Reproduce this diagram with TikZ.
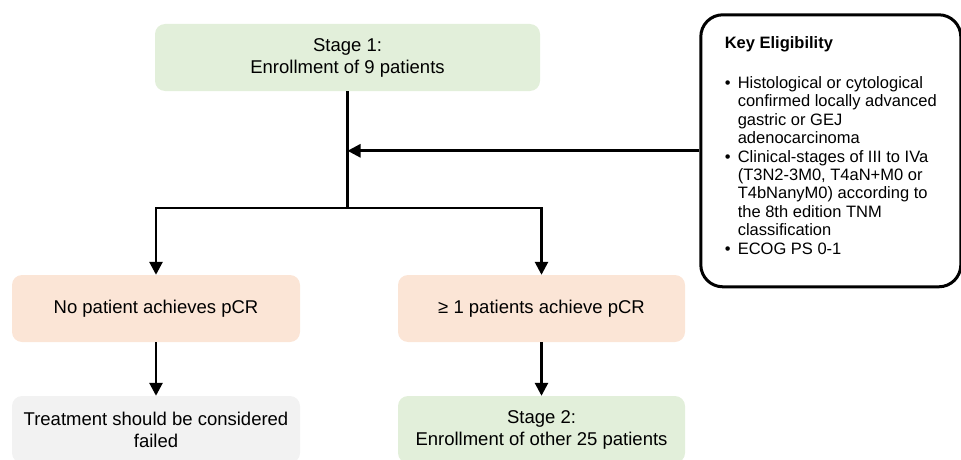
\documentclass[tikz,border=0pt]{standalone}
\usepackage{fontspec}
\setmainfont{Liberation Sans}
\usetikzlibrary{arrows.meta}
\definecolor{stagegreen}{HTML}{E2EFDA}
\definecolor{pcrorange}{HTML}{FBE5D6}
\definecolor{failgray}{HTML}{F2F2F2}

\begin{document}
\begin{tikzpicture}[x=1pt,y=-1pt,
  box/.style={rounded corners=10pt,minimum height=67pt,inner sep=0pt,align=center,
    font=\fontsize{18.5}{22}\selectfont},
  link/.style={line width=2.7pt},
  arr/.style={link,-{Triangle[length=13pt,width=13pt]}}]
  \useasboundingbox (0,0) rectangle (961,460);
  \node [box,fill=stagegreen,minimum width=385pt] (stage1) at (347.5,57.5) {Stage 1:\\Enrollment of 9 patients};
  \node [box,fill=pcrorange,minimum width=288pt] (nopcr) at (156,308.5) {No patient achieves pCR};
  \node [box,fill=pcrorange,minimum width=287pt] (onepcr) at (541.5,308.5) {≥ 1 patients achieve pCR};
  \node [box,fill=failgray,minimum width=288pt] (failed) at (156,429.5) {Treatment should be considered\\failed};
  \node [box,fill=stagegreen,minimum width=287pt] (stage2) at (541.5,429.5) {Stage 2:\\Enrollment of other 25 patients};
  \node [draw,line width=3pt,rounded corners=22pt,anchor=north west,minimum width=259pt,minimum height=272pt,
    inner xsep=24pt,inner ysep=0pt,font=\fontsize{16.5}{18.4}\selectfont] (key) at (699.3,13.3) {%
    \begin{tabular}{@{}p{13pt}@{}l@{}}
      \multicolumn{2}{@{}l}{\textbf{Key Eligibility}}\\[21.6pt]
      • & Histological or cytological\\
        & confirmed locally advanced\\
        & gastric or GEJ\\
        & adenocarcinoma\\
      • & Clinical-stages of III to IVa\\
        & (T3N2-3M0, T4aN+M0 or\\
        & T4bNanyM0) according to\\
        & the 8th edition TNM\\
        & classification\\
      • & ECOG PS 0-1\rule[-12pt]{0pt}{0pt}
    \end{tabular}};
  \coordinate (split) at (stage1.south |- 0,208);
  \draw [link] (stage1.south) -- (split);
  \draw [arr] (key.west) -- (key.west -| stage1.south);
  \foreach \n in {nopcr,onepcr} \draw [arr] (split) -| (\n.north);
  \foreach \a/\b in {nopcr/failed,onepcr/stage2} \draw [arr] (\a) -- (\b);
\end{tikzpicture}
\end{document}
